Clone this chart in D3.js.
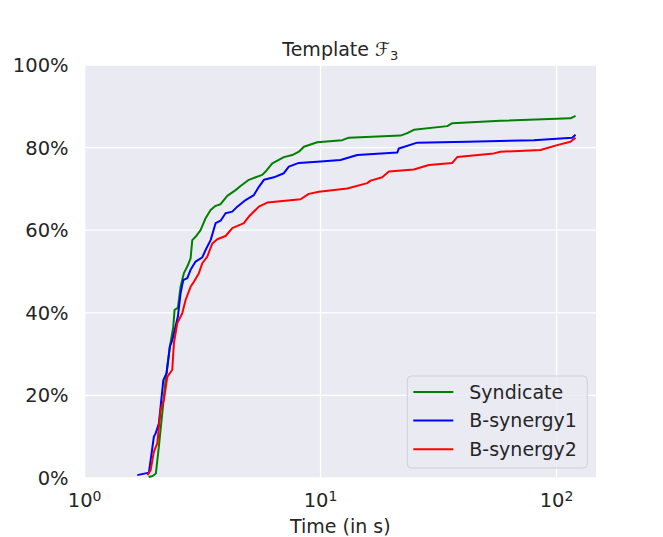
<!DOCTYPE html>
<html>
<head>
<meta charset="utf-8">
<script src="https://cdn.jsdelivr.net/npm/d3@7"></script>
<style>
  body { margin: 0; background: #fff; }
  text { font-family: "DejaVu Sans", sans-serif; fill: #262626; }
</style>
</head>
<body>
<svg id="chart" width="663" height="537"></svg>
<script>
// time (s) and share of solved instances (%)
const syndicateTime = [1.867, 1.942, 2.005, 2.064, 2.134, 2.204, 2.298, 2.376, 2.406, 2.485, 2.551, 2.635, 2.724, 2.813, 2.86, 2.953, 3.101, 3.257, 3.42, 3.591, 3.77, 4.024, 4.364, 4.581, 4.968, 5.662, 5.848, 6.243, 6.991, 7.588, 8.093, 8.498, 9.683, 12.36, 13.18, 21.83, 23.31, 24.85, 34.44, 36.15, 57.9, 114.6, 120.4];
const syndicatePct = [0.24, 0.5, 1.1, 7.6, 15.7, 23.7, 31.8, 36.6, 40.7, 41.2, 46.3, 49.6, 51.2, 53.2, 57.6, 58.4, 60.0, 62.9, 64.9, 65.9, 66.3, 68.3, 69.7, 70.7, 72.2, 73.4, 74.2, 76.2, 77.7, 78.2, 79.0, 80.2, 81.3, 81.8, 82.4, 82.9, 83.5, 84.3, 85.2, 85.9, 86.5, 87.1, 87.7];

const bsynergy1Time = [1.672, 1.873, 1.966, 2.0, 2.064, 2.156, 2.226, 2.298, 2.353, 2.485, 2.551, 2.619, 2.724, 2.813, 2.953, 3.153, 3.257, 3.42, 3.591, 3.77, 3.958, 4.226, 4.437, 4.811, 5.217, 5.478, 5.752, 6.341, 6.991, 7.338, 8.093, 9.683, 12.15, 14.31, 21.14, 21.47, 25.69, 41.84, 80.14, 116.5, 120.4];
const bsynergy1Pct = [0.7, 1.3, 10.0, 10.8, 13.2, 23.7, 25.4, 31.8, 33.4, 39.1, 44.7, 47.9, 48.4, 50.4, 52.4, 53.4, 55.2, 57.6, 61.7, 62.3, 64.1, 64.5, 65.7, 67.3, 68.5, 70.5, 72.2, 72.8, 73.8, 75.4, 76.3, 76.6, 77.0, 78.2, 78.8, 79.8, 81.2, 81.4, 81.8, 82.4, 83.1];

const bsynergy2Time = [1.844, 1.905, 1.966, 2.033, 2.099, 2.168, 2.241, 2.353, 2.39, 2.471, 2.594, 2.679, 2.813, 2.905, 3.05, 3.153, 3.311, 3.477, 3.65, 3.958, 4.226, 4.732, 4.968, 5.478, 5.945, 8.228, 8.92, 9.835, 12.98, 15.77, 16.29, 18.26, 19.48, 24.85, 28.77, 36.15, 37.95, 54.25, 57.9, 85.53, 100.7, 114.6, 120.4];
const bsynergy2Pct = [0.7, 1.9, 6.4, 8.4, 16.5, 18.9, 24.5, 26.2, 32.6, 37.5, 39.9, 43.1, 46.3, 47.5, 49.6, 52.0, 53.6, 56.8, 57.8, 58.6, 60.5, 61.7, 63.3, 65.7, 66.7, 67.5, 68.8, 69.3, 70.1, 71.4, 72.0, 72.8, 74.2, 74.7, 75.8, 76.3, 77.7, 78.6, 79.0, 79.4, 80.6, 81.4, 82.4];

const seriesNames = ["Syndicate", "B-synergy1", "B-synergy2"];
const seriesColors = ["green", "blue", "red"];
const xTicks = [1, 10, 100];
const yTicks = [0, 20, 40, 60, 80, 100];

const svg = d3.select("#chart");
const margin = { top: 65, right: 67, bottom: 59, left: 84.6 };
const width = 663, height = 537;
const innerW = width - margin.left - margin.right;
const innerH = height - margin.top - margin.bottom;

const x = d3.scaleLog().domain([1, 147]).range([0, innerW]);
const y = d3.scaleLinear().domain([0, 100]).range([innerH, 0]);

const g = svg.append("g").attr("transform", `translate(${margin.left},${margin.top})`);

g.append("rect")
  .attr("width", innerW)
  .attr("height", innerH)
  .attr("fill", "#EAEAF2");

// grid
g.selectAll(".xgrid")
  .data(xTicks)
  .join("line")
  .attr("x1", d => x(d)).attr("x2", d => x(d))
  .attr("y1", 0).attr("y2", innerH)
  .attr("stroke", "#fff").attr("stroke-width", 1.3);

g.selectAll(".ygrid")
  .data(yTicks)
  .join("line")
  .attr("x1", 0).attr("x2", innerW)
  .attr("y1", d => y(d)).attr("y2", d => y(d))
  .attr("stroke", "#fff").attr("stroke-width", 1.3);

// y tick labels
g.selectAll(".ylab")
  .data(yTicks)
  .join("text")
  .attr("x", -16)
  .attr("y", d => y(d))
  .attr("dy", "0.36em")
  .attr("text-anchor", "end")
  .style("font-size", "19.5px")
  .text(d => d + "%");

// x tick labels 10^n
const xl = g.selectAll(".xlab")
  .data(xTicks)
  .join("text")
  .attr("x", d => x(d))
  .attr("y", innerH + 29)
  .attr("text-anchor", "middle")
  .style("font-size", "19.5px");
xl.append("tspan").text("10");
xl.append("tspan")
  .attr("dy", "-0.45em")
  .style("font-size", "14px")
  .text(d => Math.round(Math.log10(d)));

g.append("text")
  .attr("x", innerW / 2)
  .attr("y", innerH + 55)
  .attr("text-anchor", "middle")
  .style("font-size", "19px")
  .text("Time (in s)");

// title
const title = g.append("text")
  .attr("x", innerW / 2)
  .attr("y", -9)
  .attr("text-anchor", "middle")
  .style("font-size", "19px");
title.append("tspan").text("Template ");
title.append("tspan").style("font-style", "italic").text("\u2131");
title.append("tspan").attr("dy", "0.3em").style("font-size", "13px").text("3");

// lines
const series = [
  { time: syndicateTime, pct: syndicatePct },
  { time: bsynergy1Time, pct: bsynergy1Pct },
  { time: bsynergy2Time, pct: bsynergy2Pct }
];

const line = d3.line()
  .x(d => x(d[0]))
  .y(d => y(d[1]));

series.forEach((s, i) => {
  g.append("path")
    .datum(s.time.map((t, k) => [t, s.pct[k]]))
    .attr("d", line)
    .attr("fill", "none")
    .attr("stroke", seriesColors[i])
    .attr("stroke-width", 2)
    .attr("stroke-linejoin", "round");
});

// legend
const lg = g.append("g").attr("transform", `translate(${407.3 - margin.left},${376 - margin.top})`);
lg.append("rect")
  .attr("width", 180).attr("height", 92)
  .attr("rx", 4)
  .attr("fill", "#EAEAF2")
  .attr("fill-opacity", 0.8)
  .attr("stroke", "#cfcfd6")
  .attr("stroke-width", 1);

const items = lg.selectAll(".item")
  .data(seriesNames)
  .join("g")
  .attr("transform", (d, i) => `translate(0,${16 + i * 28.6})`);
items.append("line")
  .attr("x1", 6).attr("x2", 46)
  .attr("stroke", (d, i) => seriesColors[i])
  .attr("stroke-width", 2);
items.append("text")
  .attr("x", 62)
  .attr("dy", "0.36em")
  .style("font-size", "19px")
  .text(d => d);
</script>
</body>
</html>
